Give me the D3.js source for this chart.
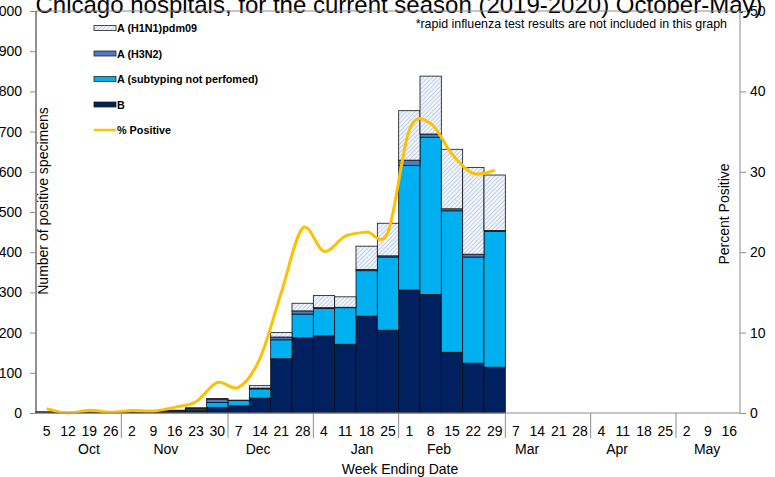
<!DOCTYPE html>
<html><head><meta charset="utf-8">
<script src="https://cdn.jsdelivr.net/npm/d3@7"></script>
<style>body{margin:0;background:#fff}svg{display:block;font-family:"Liberation Sans",Arial,sans-serif}</style>
</head><body><svg id="c" width="775" height="477"></svg>
<script>
const weekLabels = ["5","12","19","26","2","9","16","23","30","7","14","21","28","4","11","18","25","1","8","15","22","29","7","14","21","28","4","11","18","25","2","9","16"];
const months = ["Oct","Nov","Dec","Jan","Feb","Mar","Apr","May"];
const monthWeekCounts = [4,5,4,4,5,4,4,3];
const monthLabelPos = [2.48,6.09,10.41,15.28,18.89,23.02,27.24,31.46];
const seriesNames = ["B","A (subtyping not perfomed)","A (H3N2)","A (H1N1)pdm09"];
const valB    = [2,2,2,2,2,3,6,6,14,18,37,135,187,192,171,241,206,306,295,151,124,114];
const valAns  = [1,0,1,1,1,1,1,4,12,13,23,47,59,68,91,113,182,310,391,352,264,338];
const valH3   = [0,0,0,0,0,0,0,2,8,1,2,7,8,2,1,3,3,13,8,5,7,2];
const valH1   = [0,0,0,0,0,0,0,1,2,0,6,11,19,30,26,58,81,123,144,148,216,138];
const pctPositive = [0.55,0.0,0.35,0.1,0.3,0.25,0.7,1.4,3.8,3.2,6.8,15.0,23.0,20.1,22.0,22.5,22.5,35.2,36.0,32.2,29.8,30.2];
const leftTicks = [0,100,200,300,400,500,600,700,800,900,1000];
const rightTicks = [0,10,20,30,40,50];

const svg = d3.select("#c");
const L=36,R=740,T=11,B=413;
const x = d3.scaleBand().domain(d3.range(weekLabels.length)).range([L,R]).padding(0);
const xw = d3.scaleLinear().domain([0,weekLabels.length]).range([L,R]);
const y = d3.scaleLinear().domain([0,1000]).range([B,T]);
const y2 = d3.scaleLinear().domain([0,50]).range([B,T]);

const defs = svg.append("defs");
const pat = defs.append("pattern").attr("id","hatch").attr("patternUnits","userSpaceOnUse")
  .attr("width",3).attr("height",3).attr("patternTransform","rotate(45)");
pat.append("rect").attr("width",3).attr("height",3).attr("fill","#f2f6fc");
pat.append("line").attr("x1",0).attr("y1",0).attr("x2",0).attr("y2",3).attr("stroke","#a3bce0").attr("stroke-width",1.3);

const colors = {"B":"#002060","A (subtyping not perfomed)":"#00b0f0","A (H3N2)":"#4a7cc9","A (H1N1)pdm09":"url(#hatch)"};

// title
svg.append("text").attr("x",399).attr("y",13).attr("text-anchor","middle").attr("font-size",24)
  .text("Chicago hospitals, for the current season (2019-2020) October-May)");

// frame
svg.append("line").attr("x1",L).attr("x2",R).attr("y1",T).attr("y2",T).attr("stroke","#8c8c8c");

// stacked bars
const rows = valB.map((v,i)=>({i, "B":v, "A (subtyping not perfomed)":valAns[i], "A (H3N2)":valH3[i], "A (H1N1)pdm09":valH1[i]}));
const stack = d3.stack().keys(seriesNames)(rows);
stack.forEach(s=>{
  svg.append("g").selectAll("rect").data(s).join("rect")
    .attr("x",d=>x(d.data.i)).attr("width",x.bandwidth())
    .attr("y",d=>y(d[1])).attr("height",d=>y(d[0])-y(d[1]))
    .attr("fill",colors[s.key]).attr("stroke","#111").attr("stroke-width",0.8);
});

// line
const line = d3.line().x((d,i)=>x(i)+x.bandwidth()/2).y(d=>y2(d)).curve(d3.curveCardinal.tension(0));
svg.append("path").datum(pctPositive).attr("d",line).attr("fill","none").attr("stroke","#ffc000").attr("stroke-width",3);

// left axis
const ga = svg.append("g").attr("transform",`translate(${L},0)`).call(d3.axisLeft(y).tickValues(leftTicks).tickSize(6).tickPadding(8));
ga.select(".domain").attr("stroke","#222").attr("d",`M0,${B}V${T}`);
ga.selectAll(".tick line").attr("stroke","#8c8c8c");
ga.selectAll("text").attr("font-size",14).attr("fill","#000").style("font-family","Liberation Sans, Arial");
// right axis
const gr = svg.append("g").attr("transform",`translate(${R},0)`).call(d3.axisRight(y2).tickValues(rightTicks).tickSize(6).tickPadding(4));
gr.select(".domain").attr("stroke","#8c8c8c").attr("d",`M0,${B}V${T}`);
gr.selectAll(".tick line").attr("stroke","#8c8c8c");
gr.selectAll("text").attr("font-size",14).attr("fill","#000").style("font-family","Liberation Sans, Arial");

// bottom axis
const gb = svg.append("g").attr("transform",`translate(0,${B})`).call(d3.axisBottom(x).tickSize(0).tickPadding(13).tickFormat(i=>weekLabels[i]));
gb.select(".domain").attr("stroke","#8c8c8c").attr("d",`M${L},0H${R}`);
gb.selectAll("text").attr("font-size",14).attr("fill","#000").style("font-family","Liberation Sans, Arial");
// month separators
let acc=0; const seps=[];
monthWeekCounts.forEach((c,k)=>{acc+=c; if(k<monthWeekCounts.length-1) seps.push(acc);});
svg.append("g").selectAll("line").data(seps).join("line")
  .attr("x1",d=>xw(d)).attr("x2",d=>xw(d)).attr("y1",B).attr("y2",B+25).attr("stroke","#8c8c8c");
svg.append("g").selectAll("text").data(months).join("text")
  .attr("x",(d,i)=>xw(monthLabelPos[i])).attr("y",B+41).attr("text-anchor","middle").attr("font-size",14).text(d=>d);

// axis titles
svg.append("text").attr("x",400).attr("y",474).attr("text-anchor","middle").attr("font-size",14).text("Week Ending Date");
svg.append("text").attr("transform","translate(48,201) rotate(-90)").attr("text-anchor","middle").attr("font-size",14).text("Number of positive specimens");
svg.append("text").attr("transform","translate(729,214) rotate(-90)").attr("text-anchor","middle").attr("font-size",14).text("Percent Positive");

// note
svg.append("text").attr("x",727).attr("y",28).attr("text-anchor","end").attr("font-size",12.4).text("*rapid influenza test results are not included in this graph");

// legend
const legendItems = ["A (H1N1)pdm09","A (H3N2)","A (subtyping not perfomed)","B","% Positive"];
const lg = svg.append("g");
legendItems.forEach((name,i)=>{
  const yy = 28 + i*25.5;
  if(name==="% Positive"){
    lg.append("line").attr("x1",94).attr("x2",116).attr("y1",yy).attr("y2",yy).attr("stroke","#ffc000").attr("stroke-width",2.5);
  } else {
    lg.append("rect").attr("x",94).attr("y",yy-2.5).attr("width",22).attr("height",5).attr("fill",colors[name]).attr("stroke","#222").attr("stroke-width",0.8);
  }
  lg.append("text").attr("x",117).attr("y",yy+4).attr("font-size",10.8).attr("font-weight","bold").text(name);
});
</script></body></html>
